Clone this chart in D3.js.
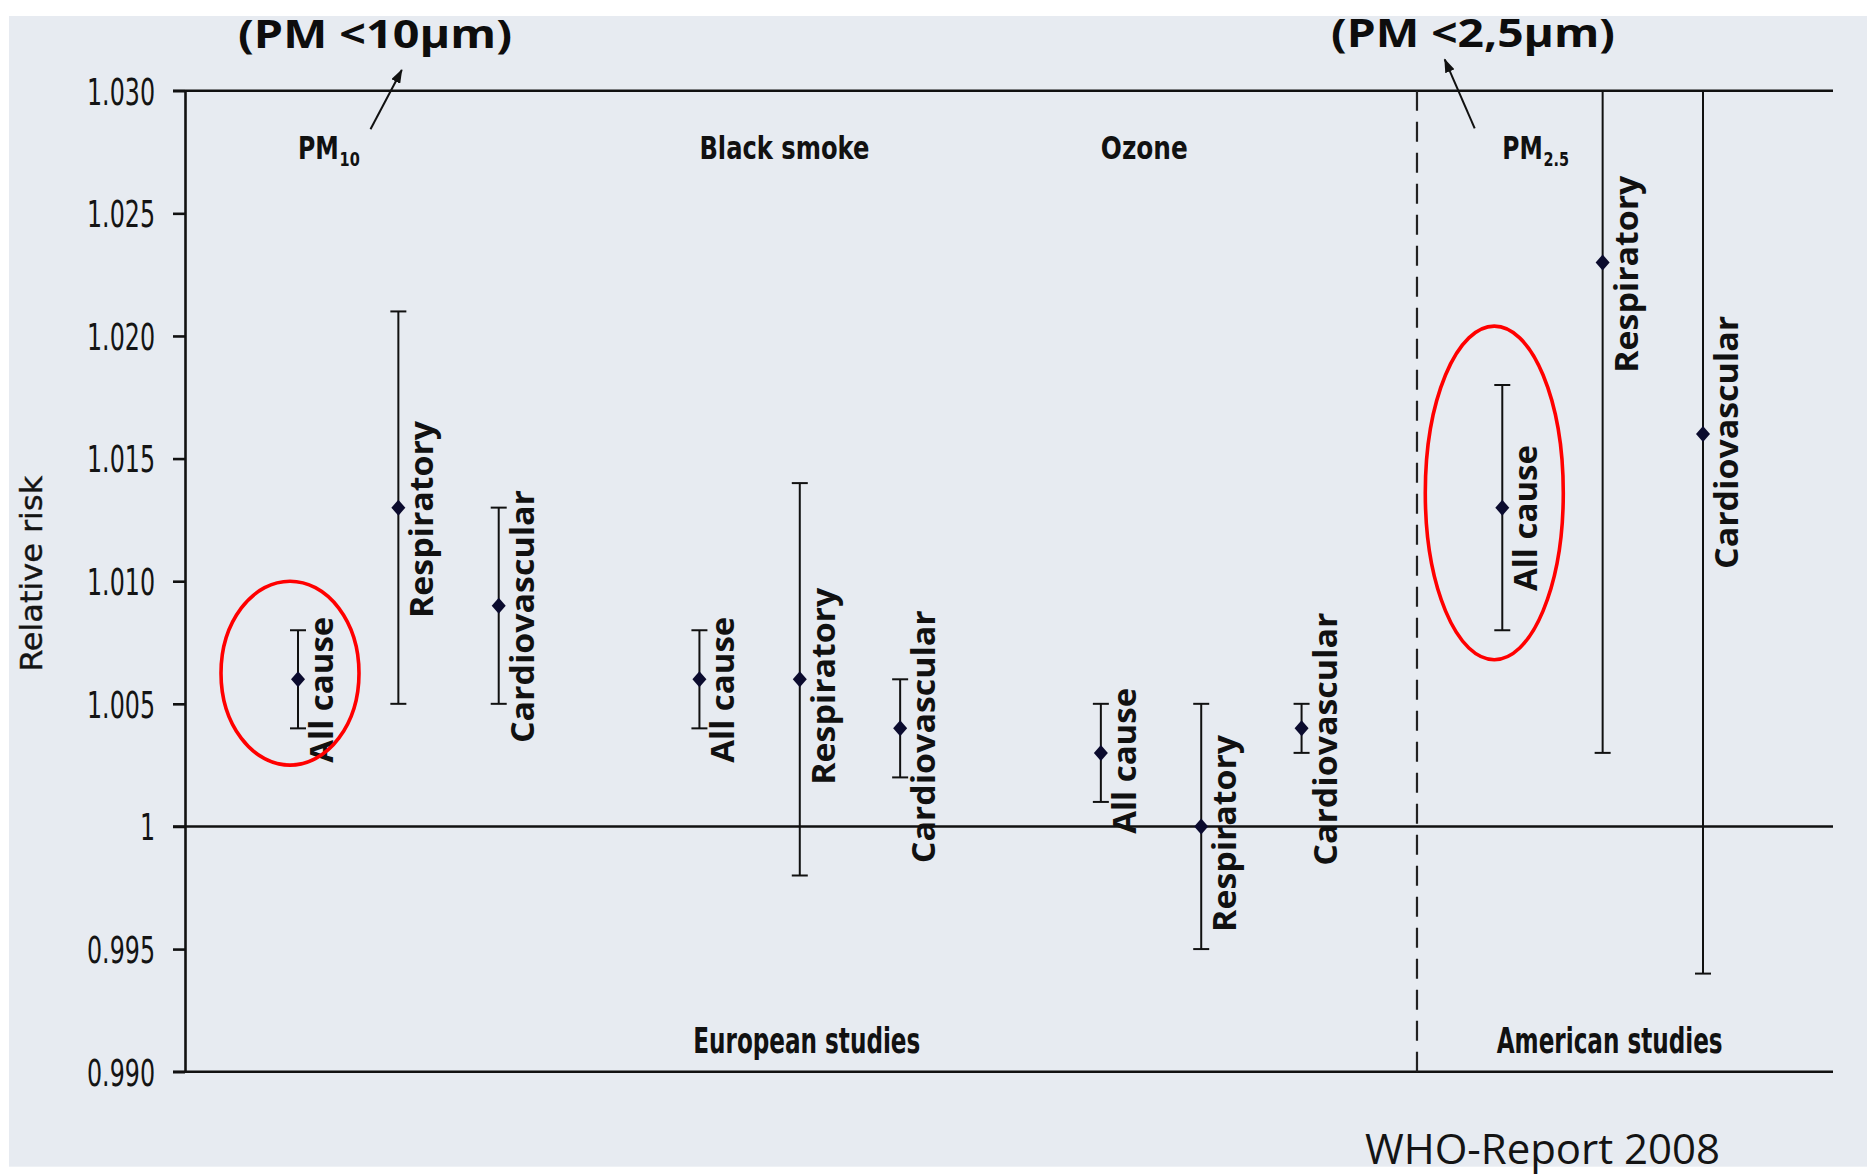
<!DOCTYPE html>
<html>
<head>
<meta charset="utf-8">
<script src="https://cdn.jsdelivr.net/npm/d3@7"></script>
<style>
  html, body { margin: 0; padding: 0; background: #ffffff; }
  svg { display: block; }
</style>
</head>
<body>
<svg id="chart" width="1867" height="1176"></svg>
<script>
// ---- data -------------------------------------------------------------
const pollutants = ["PM10", "Black smoke", "Ozone", "PM2.5"];
const outcomes = ["All cause", "Respiratory", "Cardiovascular"];
const studyRegions = ["European studies", "American studies"];

// relative risk per outcome, grouped by pollutant (PM10, black smoke, ozone, PM2.5)
const riskEstimate = [1.006, 1.013, 1.009,  1.006, 1.006, 1.004,  1.003, 1.000, 1.004,  1.013, 1.023, 1.016];
const riskLower    = [1.004, 1.005, 1.005,  1.004, 0.998, 1.002,  1.001, 0.995, 1.003,  1.008, 1.003, 0.994];
const riskUpper    = [1.008, 1.021, 1.013,  1.008, 1.014, 1.006,  1.005, 1.005, 1.005,  1.018, 1.030, 1.030];

// where each rotated outcome label begins, on the risk axis
const labelStart   = [1.0026, 1.0085, 1.0034,  1.0026, 1.0017, 0.9985,  0.9997, 0.9957, 0.9984,  1.0096, 1.0185, 1.0105];

const yTicks = [0.990, 0.995, 1, 1.005, 1.010, 1.015, 1.020, 1.025, 1.030];
const yTickLabels = ["0.990", "0.995", "1", "1.005", "1.010", "1.015", "1.020", "1.025", "1.030"];

// highlighted estimates (red ellipses): slot index and vertical extent
const highlightSlot   = [0, 12];
const highlightTop    = [1.0100, 1.0204];
const highlightBottom = [1.0025, 1.0068];

const sizeNotes = ["(PM <10\u00b5m)", "(PM <2,5\u00b5m)"];
const sourceNote = "WHO-Report 2008";

// ---- layout -----------------------------------------------------------
const svg = d3.select("#chart");
const condensed = "'Liberation Sans Narrow', 'Arial Narrow', 'DejaVu Sans Condensed', sans-serif";
const humanist = "'Open Sans', 'Noto Sans', 'DejaVu Sans', sans-serif";
const ink = "#111111";

const plotLeft = 185, plotRight = 1833;
const y = d3.scaleLinear().domain([0.990, 1.030]).range([1071.7, 90.7]);
// one slot per outcome, with an empty slot between pollutant groups
const x = d3.scaleLinear().domain([0, 14]).range([298, 1703]);
const slotOf = i => Math.floor(i / 3) * 4 + (i % 3);

function fitLength(sel, len) {
  sel.attr("textLength", len).attr("lengthAdjust", "spacingAndGlyphs");
}

// background panel
svg.append("rect")
  .attr("x", 9).attr("y", 16)
  .attr("width", 1858).attr("height", 1150.7)
  .attr("fill", "#e7ebf1");

// ---- y axis -----------------------------------------------------------
const yAxis = d3.axisLeft(y)
  .tickValues(yTicks)
  .tickFormat((d, i) => yTickLabels[i])
  .tickSize(12)
  .tickSizeOuter(0)
  .tickPadding(18);

const axisG = svg.append("g")
  .attr("transform", `translate(${plotLeft},0)`)
  .call(yAxis);
axisG.select(".domain").attr("stroke", ink).attr("stroke-width", 2.6);
axisG.selectAll(".tick line").attr("stroke", ink).attr("stroke-width", 2.6);
axisG.selectAll(".tick text")
  .attr("fill", "#141414")
  .style("font-family", condensed)
  .style("font-size", "37px")
  .attr("dy", "0.36em");

// narrow the tick labels so "1.030" spans its measured width
{
  const widest = axisG.selectAll(".tick text").filter((d, i) => yTickLabels[i] === "1.030").node();
  const factor = 68 / widest.getComputedTextLength();
  axisG.selectAll(".tick text").each(function () {
    fitLength(d3.select(this), this.getComputedTextLength() * factor);
  });
}

// frame and reference lines
const refLines = [0.990, 1, 1.030];
svg.append("g").selectAll("line")
  .data(refLines)
  .join("line")
  .attr("x1", plotLeft - 12).attr("x2", plotRight)
  .attr("y1", d => y(d)).attr("y2", d => y(d))
  .attr("stroke", ink).attr("stroke-width", 2.6);

// axis title
svg.append("text")
  .attr("transform", `translate(41.5,${(y(1.0063) + y(1.0143)) / 2}) rotate(-90)`)
  .attr("text-anchor", "middle")
  .attr("fill", "#141414")
  .attr("stroke", "#141414")
  .attr("stroke-width", 0.4)
  .style("font-family", condensed)
  .style("font-size", "31px")
  .text("Relative risk")
  .call(fitLength, 196);

// dashed divider between European and American studies
const dividerX = x(11.15);
svg.append("line")
  .attr("x1", dividerX).attr("x2", dividerX)
  .attr("y1", y(1.030)).attr("y2", y(0.990))
  .attr("stroke", "#222").attr("stroke-width", 2.2)
  .attr("stroke-dasharray", "20 11");

// ---- error bars and point estimates -----------------------------------
const rows = riskEstimate.map((v, i) => ({
  i, slot: slotOf(i), value: v, lo: riskLower[i], hi: riskUpper[i],
  outcome: outcomes[i % 3], labelAt: labelStart[i]
}));

const bars = svg.append("g").selectAll("g")
  .data(rows)
  .join("g")
  .attr("transform", d => `translate(${x(d.slot)},0)`);

bars.append("line")
  .attr("y1", d => y(d.lo)).attr("y2", d => y(d.hi))
  .attr("stroke", ink).attr("stroke-width", 2);

const capHalf = 8;
bars.selectAll("line.cap")
  .data(d => [d.lo, d.hi].filter(v => v < y.domain()[1]))
  .join("line")
  .attr("class", "cap")
  .attr("x1", -capHalf).attr("x2", capHalf)
  .attr("y1", v => y(v)).attr("y2", v => y(v))
  .attr("stroke", ink).attr("stroke-width", 2);

const diamond = {
  draw(ctx) {
    ctx.moveTo(0, -8); ctx.lineTo(7, 0); ctx.lineTo(0, 8); ctx.lineTo(-7, 0); ctx.closePath();
  }
};
bars.append("path")
  .attr("d", d3.symbol().type(diamond)())
  .attr("transform", d => `translate(0,${y(d.value)})`)
  .attr("fill", "#0b0b2e");

// rotated outcome labels
const labelLength = { "All cause": 146, "Respiratory": 197, "Cardiovascular": 253 };
bars.append("text")
  .attr("transform", d => `translate(35,${y(d.labelAt)}) rotate(-90)`)
  .attr("fill", ink)
  .style("font-family", humanist)
  .style("font-weight", "700")
  .style("font-size", "31.5px")
  .text(d => d.outcome)
  .each(function (d) { fitLength(d3.select(this), labelLength[d.outcome]); });

// ---- group and region labels -----------------------------------------
const groupLength = { "PM10": 61, "Black smoke": 170, "Ozone": 87, "PM2.5": 66 };
pollutants.forEach((name, g) => {
  const gx = x(g * 4), gy = 158.5;
  const t = svg.append("text")
    .attr("fill", ink)
    .style("font-family", condensed)
    .style("font-weight", "700")
    .style("font-size", "32.5px");
  const m = name.match(/^PM(.+)$/);
  if (m) {
    // particle size written as a subscript; the whole label is squeezed to width
    t.append("tspan").text("PM");
    t.append("tspan").attr("dx", 1).attr("dy", 7).style("font-size", "20px").text(m[1]);
    const sx = groupLength[name] / t.node().getComputedTextLength();
    t.attr("transform", `translate(${gx},${gy}) scale(${sx},1)`);
  } else {
    t.attr("x", gx).attr("y", gy).text(name).call(fitLength, groupLength[name]);
  }
});

const regionCenter = [x(5) + 7, x(13) + 7];
const regionLength = [227, 226];
studyRegions.forEach((name, r) => {
  svg.append("text")
    .attr("x", regionCenter[r])
    .attr("y", 1053)
    .attr("text-anchor", "middle")
    .attr("fill", ink)
    .style("font-family", condensed)
    .style("font-weight", "700")
    .style("font-size", "36px")
    .text(name)
    .call(fitLength, regionLength[r]);
});

// ---- annotations -------------------------------------------------------
svg.append("g").selectAll("ellipse")
  .data(highlightSlot)
  .join("ellipse")
  .attr("cx", (s, k) => x(s) - 8)
  .attr("cy", (s, k) => (y(highlightTop[k]) + y(highlightBottom[k])) / 2)
  .attr("rx", 69)
  .attr("ry", (s, k) => (y(highlightBottom[k]) - y(highlightTop[k])) / 2)
  .attr("fill", "none")
  .attr("stroke", "#ff0000")
  .attr("stroke-width", 3.6);

const defs = svg.append("defs");
defs.append("marker")
  .attr("id", "arrowhead")
  .attr("viewBox", "0 0 14 10")
  .attr("refX", 13).attr("refY", 5)
  .attr("markerUnits", "userSpaceOnUse")
  .attr("markerWidth", 14).attr("markerHeight", 10)
  .attr("orient", "auto")
  .append("path")
  .attr("d", "M0,0 L14,5 L0,10 Z")
  .attr("fill", ink);

const arrows = [
  { x1: 370.5, y1: 129.3, x2: 401.8, y2: 70 },
  { x1: 1474.7, y1: 128.3, x2: 1444.7, y2: 59.3 }
];
svg.append("g").selectAll("line")
  .data(arrows)
  .join("line")
  .attr("x1", d => d.x1).attr("y1", d => d.y1)
  .attr("x2", d => d.x2).attr("y2", d => d.y2)
  .attr("stroke", ink).attr("stroke-width", 2)
  .attr("marker-end", "url(#arrowhead)");

const notePos = [{ x: 238, y: 48, len: 274 }, { x: 1331, y: 46.5, len: 284 }];
sizeNotes.forEach((txt, k) => {
  svg.append("text")
    .attr("x", notePos[k].x)
    .attr("y", notePos[k].y)
    .attr("fill", "#0d0d0d")
    .style("font-family", humanist)
    .style("font-weight", "700")
    .style("font-size", "39px")
    .text(txt)
    .call(fitLength, notePos[k].len);
});

svg.append("text")
  .attr("x", 1365)
  .attr("y", 1164)
  .attr("fill", "#141414")
  .style("font-family", humanist)
  .style("font-size", "42px")
  .text(sourceNote)
  .call(fitLength, 355);
</script>
</body>
</html>
